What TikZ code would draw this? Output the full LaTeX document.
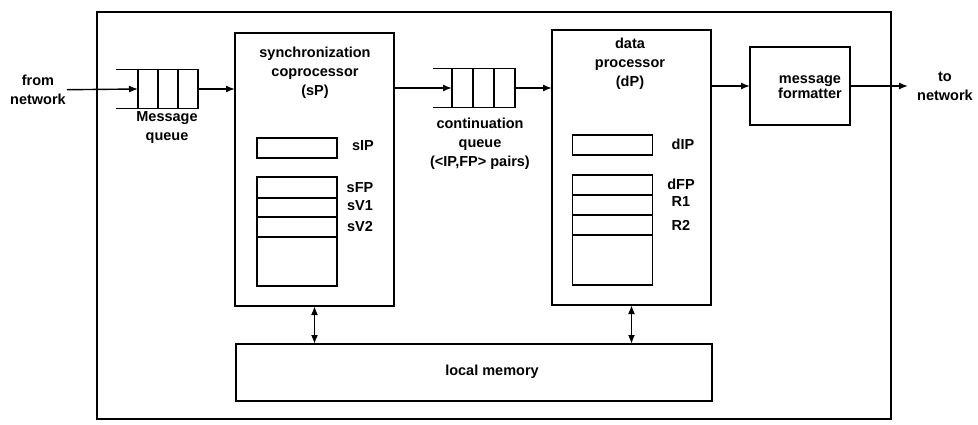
\documentclass[tikz,border=0pt]{standalone}
\usepackage{fontspec}
\setmainfont{Liberation Sans}
\usetikzlibrary{arrows.meta,positioning}
\tikzset{
  blockbox/.style={
    rectangle, draw=black, line width=1.3pt, inner sep=0pt, outer sep=0pt
  },
  regbox/.style={
    rectangle, draw=black, line width=1.2pt, minimum width=80pt,
    inner sep=0pt, outer sep=0pt
  },
  qcell/.style={
    rectangle, draw=black, line width=1.2pt, minimum height=39pt,
    inner sep=0pt, outer sep=0pt
  },
  lbl/.style={font=\bfseries\fontsize{14.5}{19}\selectfont, align=center, inner sep=1pt},
  qline/.style={line width=1.2pt},
  arrow/.style={-{Latex[length=9pt,width=7pt]}, line width=1.4pt},
  darrow/.style={{Latex[length=9pt,width=7pt]}-{Latex[length=9pt,width=7pt]}, line width=1.8pt}
}

\begin{document}
\begin{tikzpicture}[x=1pt,y=-1pt]
  \useasboundingbox (0,0) rectangle (978,425);

  \node[blockbox, line width=1.7pt, minimum width=794pt, minimum height=407pt] (board) at (494,215.5) {};

  \node[blockbox, minimum width=159pt, minimum height=273pt] (sP) at (314.5,169.5) {};
  \node[blockbox, minimum width=159pt, minimum height=275pt] (dP) at (631.5,167.5) {};
  \node[blockbox, minimum width=100pt, minimum height=78pt] (fmt) at (800,86) {};
  \node[blockbox, minimum width=476pt, minimum height=57pt] (mem) at (474,372.5) {};

  \node[lbl] (sPtitle) at (315,72.5) {synchronization\\coprocessor\\(sP)};
  \node[lbl] (dPtitle) at (630,64) {data\\processor\\(dP)};
  \node[lbl, font=\bfseries\fontsize{14.5}{15}\selectfont] (fmtlabel) at (810,87) {message\\formatter};
  \node[lbl] (memlabel) at (492,372) {local memory};

  % message queue
  \node[qcell, minimum width=20pt] (mq1) at (148,89) {};
  \node[qcell, minimum width=20pt, right=0pt of mq1] (mq2) {};
  \node[qcell, minimum width=20pt, right=0pt of mq2] (mq3) {};
  \draw[qline] (mq1.north west) -- ++(-22,0);
  \draw[qline] (mq1.south west) -- ++(-22,0);
  \node[lbl] (mqlabel) at (167,128) {Message\\queue};

  % continuation queue
  \node[qcell, minimum width=21pt] (cq1) at (462.5,88) {};
  \node[qcell, minimum width=21pt, right=0pt of cq1] (cq2) {};
  \node[qcell, minimum width=21pt, right=0pt of cq2] (cq3) {};
  \draw[qline] (cq1.north west) -- ++(-19,0);
  \draw[qline] (cq1.south west) -- ++(-19,0);
  \node[lbl] (cqlabel) at (480,144) {continuation\\queue\\(<IP,FP> pairs)};

  % sP registers
  \node[regbox, minimum height=20pt] (sIP) at (297,148) {};
  \node[regbox, minimum height=21pt] (sFP) at (297,187.5) {};
  \node[regbox, minimum height=19pt, below=0pt of sFP] (sV1) {};
  \node[regbox, minimum height=20pt, below=0pt of sV1] (sV2) {};
  \node[regbox, minimum height=49pt, below=0pt of sV2] (sfree) {};
  \node[lbl] (sIPl) at (363,146) {sIP};
  \node[lbl] (sFPl) at (360,188) {sFP};
  \node[lbl] (sV1l) at (360,206) {sV1};
  \node[lbl] (sV2l) at (360,227) {sV2};

  % dP registers
  \node[regbox, minimum height=20pt] (dIP) at (612.5,145) {};
  \node[regbox, minimum height=20pt] (dFP) at (612.5,185) {};
  \node[regbox, minimum height=20pt, below=0pt of dFP] (R1) {};
  \node[regbox, minimum height=20pt, below=0pt of R1] (R2) {};
  \node[regbox, minimum height=50pt, below=0pt of R2] (dfree) {};
  \node[lbl] (dIPl) at (683,144) {dIP};
  \node[lbl] (dFPl) at (681,184) {dFP};
  \node[lbl] (R1l) at (681,202) {R1};
  \node[lbl] (R2l) at (681,225) {R2};

  \node[lbl] (fromnet) at (38,90) {from\\network};
  \node[lbl] (tonet) at (945,86) {to\\network};

  \draw[arrow] (fromnet) -- (mq1.west);
  \draw[arrow] (mq3.east) -- (mq3.east -| sP.west);
  \draw[arrow] (sP.east |- cq1.west) -- (cq1.west);
  \draw[arrow] (cq3.east) -- (cq3.east -| dP.west);
  \draw[arrow] (dP.east |- fmt.west) -- (fmt.west);
  \draw[arrow, shorten >=8pt] (fmt.east) -- (tonet);
  \draw[darrow] (sP.south) -- (sP.south |- mem.north);
  \draw[darrow] (dP.south) -- (dP.south |- mem.north);
\end{tikzpicture}
\end{document}
